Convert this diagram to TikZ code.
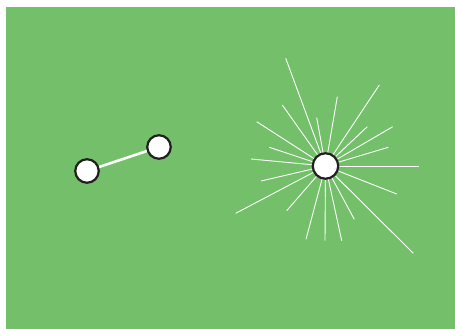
\documentclass[tikz,border=0pt]{standalone}
\usepackage{tikz}
\usetikzlibrary{positioning}
\definecolor{fieldGreen}{RGB}{116, 192, 106}
\definecolor{ballBlack}{RGB}{35, 31, 32}

\begin{document}
\begin{tikzpicture}[
  x=1pt,y=-1pt,
  ball/.style={
    circle,
    draw=ballBlack,
    line width=2.2pt,
    fill=white,
    inner sep=0pt,
    minimum size=23.5pt
  },
  bigball/.style={
    ball,
    minimum size=25.5pt
  },
  bond/.style={white,line width=2.6pt},
  ray/.style={white,line width=0.9pt}
]
  \fill[white] (0,0) rectangle (455,329);
  \fill[fieldGreen] (6,7) rectangle (455,329);
  % two bound particles
  \node[ball] (left) at (87,171) {};
  \node[ball] (right) at (159,147) {};
  \draw[bond] (left) -- (right);
  % free particle with its rays
  \coordinate (centre) at (325.5,166);
  \foreach \i/\x/\y in {1/285.7/58.3, 2/379.3/85, 3/337.3/96.7, 4/282.3/105,
      5/256.7/121.7, 6/316.7/117.7, 7/367.3/126.7, 8/392.7/126.7,
      9/269.3/147.3, 10/388.3/147.3, 11/251/159, 12/419.3/166,
      13/261/181, 14/396.7/194, 15/235.7/213.3, 16/286.7/210.7,
      17/354.3/219.3, 18/306/239.3, 19/325/240.7, 20/341.7/240.7,
      21/413.3/253.3} {
    \coordinate (tip\i) at (\x,\y);
    \draw[ray] (centre) -- (tip\i);
  }
  \node[bigball] (free) at (centre) {};
\end{tikzpicture}
\end{document}
